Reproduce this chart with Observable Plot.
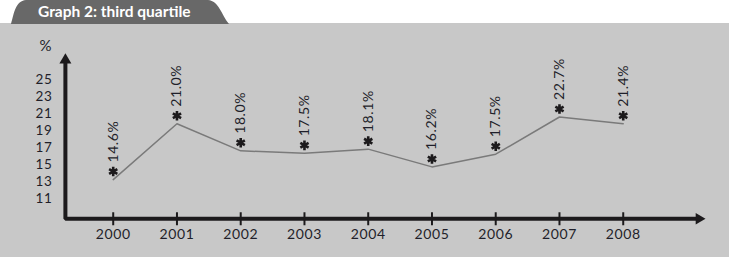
<!DOCTYPE html>
<html><head><meta charset="utf-8">
<script src="https://cdn.jsdelivr.net/npm/d3@7"></script>
<script src="https://cdn.jsdelivr.net/npm/@observablehq/plot@0.6"></script>
<style>
html,body{margin:0;padding:0;background:#fff;}
#wrap{position:relative;width:729px;height:257px;overflow:hidden;}
#panel{position:absolute;left:0;top:23px;width:729px;height:234px;background:#c8c8c8;}
#tab{position:absolute;left:0;top:0;}
#chart{position:absolute;left:0;top:0;}
#chart text{letter-spacing:0.6px;}
</style></head>
<body>
<div id="wrap">
  <div id="panel"></div>
  <svg id="tab" width="240" height="24" viewBox="0 0 240 24">
    <path d="M11,24 C14,14 15,1 26,0 H208 C219,1 221,14 229,24 Z" fill="#686868"/>
    <text x="38" y="16.5" fill="#fff" font-family="Lato" font-weight="bold" font-size="15.5">Graph 2: third quartile</text>
  </svg>
  <div id="chart"></div>
</div>
<script>
const years = [2000, 2001, 2002, 2003, 2004, 2005, 2006, 2007, 2008];
const labelValues = [14.6, 21.0, 18.0, 17.5, 18.1, 16.2, 17.5, 22.7, 21.4];
const lineValues = [13.2, 19.8, 16.6, 16.3, 16.8, 14.7, 16.2, 20.6, 19.8];
const yTicks = [11, 13, 15, 17, 19, 21, 23, 25];

const data = years.map((year, i) => ({year, line: lineValues[i], label: labelValues[i]}));

// axis geometry in data space
const axisX = 1999.25, axisY = 8.57;
const xTip = 2009.29, yTip = 28.14;
const xShaft = 2009.19, yShaft = 27.3;
const ink = "#1c1a1c", txt = "#1f1f2a";

const chart = Plot.plot({
  width: 729, height: 257,
  marginTop: 0, marginRight: 0, marginBottom: 0, marginLeft: 0,
  x: {domain: [1998.232, 2009.667], axis: null},
  y: {domain: [3.99, 34.37], axis: null},
  style: {background: "transparent", overflow: "visible"},
  marks: [
    Plot.line([{x: axisX, y: yShaft}, {x: axisX, y: axisY}, {x: xShaft, y: axisY}],
      {x: "x", y: "y", stroke: ink, strokeWidth: 4, strokeLinejoin: "miter", curve: "linear"}),
    Plot.dot([{x: axisX, y: yTip}], {x: "x", y: "y", symbol: "triangle", r: 4.45, fill: ink, dy: 6.9}),
    Plot.dot([{x: xTip, y: axisY}], {x: "x", y: "y", symbol: "triangle", r: 4.2, fill: ink, rotate: 90, dx: -6.5}),
    Plot.ruleX(years, {x: d => d, y1: axisY, y2: axisY, insetTop: -6, insetBottom: -7, stroke: ink, strokeWidth: 2}),
    Plot.text(yTicks, {x: axisX, y: d => d, dx: -13, textAnchor: "end", text: d => String(d), fontSize: 13.5, fontFamily: "Lato", fill: txt}),
    Plot.text(["%"], {x: axisX, y: yTip, dx: -19.5, dy: -7, text: d => d, fontSize: 15, fontFamily: "Lato", fill: txt}),
    Plot.text(years, {x: d => d, y: axisY, dy: 16, text: d => String(d), fontSize: 14, fontFamily: "Lato", fill: txt}),
    Plot.line(data, {x: "year", y: "line", stroke: "#7a7a7a", strokeWidth: 1.5}),
    Plot.dot(data, {x: "year", y: "line", dy: -8, symbol: "asterisk", r: 4.5, stroke: ink, strokeWidth: 2.6}),
    Plot.text(data, {x: "year", y: "line", dy: -17, rotate: -90, textAnchor: "start", text: d => d.label.toFixed(1) + "%", fontSize: 14, fontFamily: "Lato", fill: txt})
  ]
});
document.getElementById("chart").appendChild(chart);
</script>
</body></html>
